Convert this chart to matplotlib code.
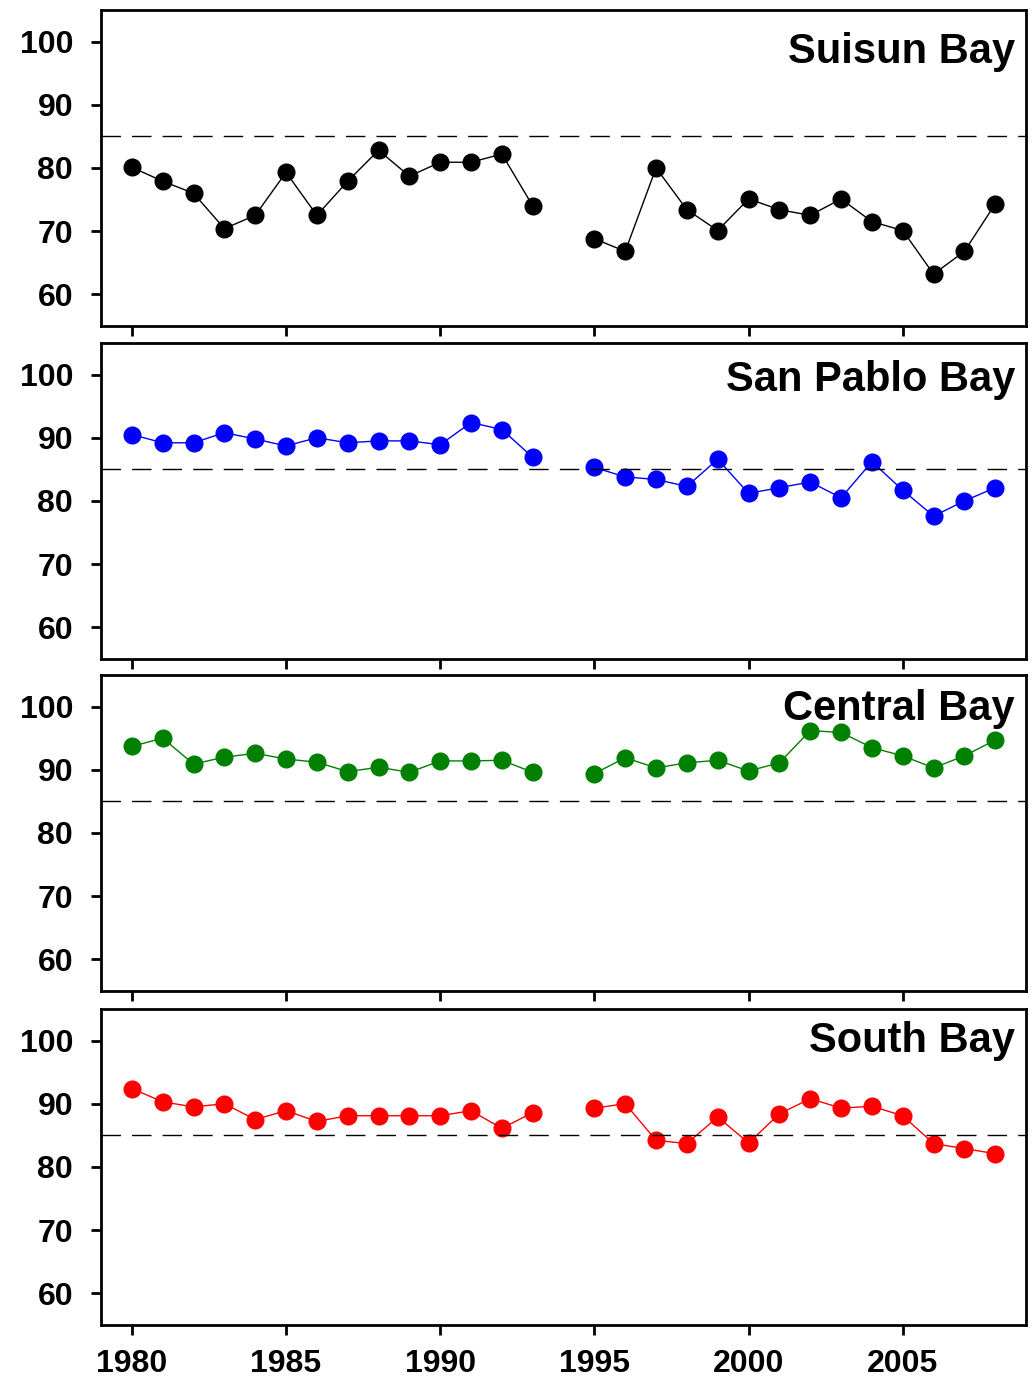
import numpy as np
import matplotlib
matplotlib.use('Agg')
import matplotlib.pyplot as plt

plt.rcParams['font.family'] = ['Liberation Sans', 'DejaVu Sans']
plt.rcParams['font.weight'] = 'bold'

years = list(range(1980, 2009))
nan = np.nan

suisun = [80.1, 77.9, 76.0, 70.4, 72.5, 79.3, 72.5, 77.9, 82.8, 78.7,
          80.9, 80.9, 82.2, 74.0, nan, 68.8, 66.8, 80.0, 73.4, 70.1,
          75.1, 73.4, 72.5, 75.1, 71.5, 70.1, 63.2, 66.8, 74.3]
san_pablo = [90.5, 89.2, 89.2, 90.8, 89.8, 88.7, 90.0, 89.2, 89.5, 89.5,
             88.9, 92.4, 91.3, 86.9, nan, 85.3, 83.8, 83.4, 82.3, 86.6,
             81.2, 82.1, 83.0, 80.5, 86.2, 81.7, 77.6, 80.0, 82.1]
central = [93.7, 95.0, 90.9, 92.0, 92.6, 91.7, 91.2, 89.7, 90.4, 89.6,
           91.4, 91.4, 91.5, 89.6, nan, 89.4, 91.9, 90.3, 91.1, 91.5,
           89.8, 91.1, 96.2, 95.9, 93.5, 92.2, 90.3, 92.2, 94.7]
south = [92.4, 90.3, 89.5, 90.0, 87.5, 88.9, 87.2, 88.1, 88.1, 88.1,
         88.1, 88.9, 86.1, 88.6, nan, 89.3, 90.0, 84.2, 83.7, 87.9,
         83.8, 88.4, 90.8, 89.3, 89.6, 88.1, 83.7, 82.9, 82.1]

panels = [('Suisun Bay', suisun, 'black', 0.867),
          ('San Pablo Bay', san_pablo, '#0000FF', 0.883),
          ('Central Bay', central, '#008000', 0.893),
          ('South Bay', south, '#FF0000', 0.9)]
threshold = 85

fig = plt.figure(figsize=(10.33, 13.8), dpi=100)
bottoms = [0.7638, 0.5225, 0.2819, 0.0399]

for i, (name, vals, color, ty) in enumerate(panels):
    ax = fig.add_axes([0.0978, bottoms[i], 0.8955, 0.229])
    ax.plot(years, vals, color=color, lw=1.0, marker='o', markersize=12,
            markeredgecolor=color, markerfacecolor=color)
    ax.axhline(threshold, color='black', lw=1.0, linestyle=(0, (14, 8)))
    ax.set_xlim(1979, 2009)
    ax.set_ylim(55, 105)
    ax.set_yticks([60, 70, 80, 90, 100])
    ax.set_xticks([1980, 1985, 1990, 1995, 2000, 2005])
    ax.tick_params(direction='out', length=7, width=2, labelsize=23)
    ax.tick_params(axis='y', pad=13, right=False)
    ax.tick_params(axis='x', pad=10, top=False)
    for lab in ax.get_yticklabels() + ax.get_xticklabels():
        lab.set_fontweight('bold')
    if i < 3:
        ax.set_xticklabels([])
    for s in ax.spines.values():
        s.set_linewidth(2)
    ax.text(0.988, ty, name, transform=ax.transAxes, ha='right', va='center',
            fontsize=30, fontweight='bold')

fig.savefig('out.png', dpi=100)
